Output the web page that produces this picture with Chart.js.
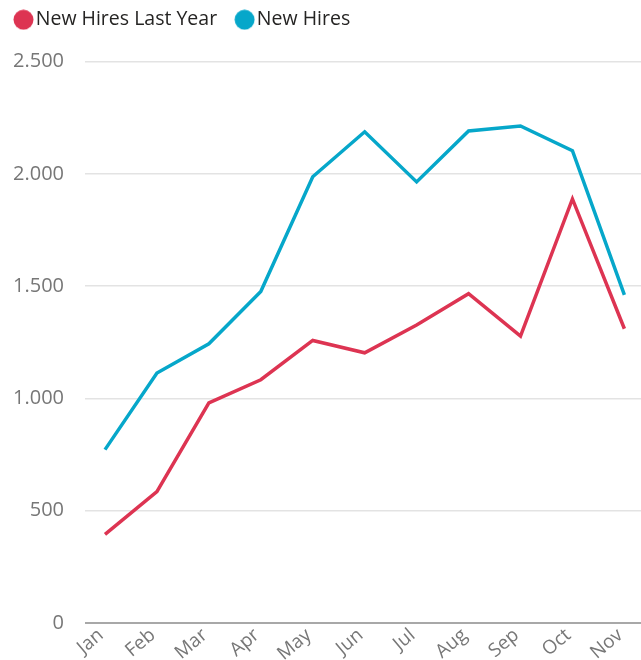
<!DOCTYPE html>
<html>
<head>
<meta charset="utf-8">
<script src="https://cdn.jsdelivr.net/npm/chart.js@4"></script>
<style>
    html, body { margin: 0; padding: 0; background: #fff; }
    #chart-wrap { width: 641px; height: 660px; }
</style>
</head>
<body>
<div id="chart-wrap"><canvas id="hires-chart" width="641" height="660"></canvas></div>
<script>
// New hires per month, this year vs last year

const months = ['Jan', 'Feb', 'Mar', 'Apr', 'May', 'Jun', 'Jul', 'Aug', 'Sep', 'Oct', 'Nov'];
const hiresLastYear = [395, 585, 980, 1083, 1258, 1203, 1327, 1466, 1277, 1888, 1310];
const hiresThisYear = [772, 1113, 1243, 1476, 1987, 2187, 1964, 2191, 2213, 2103, 1461];
const yTicks = [0, 500, 1000, 1500, 2000, 2500];

const RED = '#DD3452';
const BLUE = '#06A7CA';

// Thousands separator with a dot (2.500)
function formatThousands(v) {
    return String(v).replace(/\B(?=(\d{3})+(?!\d))/g, '.');
}

function toPoints(values) {
    return values.map((v, i) => ({ x: i, y: v }));
}

// Round legend dot, drawn at the right side of a wider canvas
// so it sits close to its text and further from the previous item
function makeDot(color) {
    const c = document.createElement('canvas');
    c.width = 36;
    c.height = 21;
    const g = c.getContext('2d');
    g.fillStyle = color;
    g.beginPath();
    g.arc(36 - 10.5, 10.5, 10, 0, Math.PI * 2);
    g.fill();
    return c;
}

const dots = [makeDot(RED), makeDot(BLUE)];

// Extra space under the legend
const legendGap = {
    id: 'legendGap',
    beforeInit(chart) {
        const origFit = chart.legend.fit;
        chart.legend.fit = function() {
            origFit.call(this);
            this.height += 22;
        };
    }
};

const ctx = document.getElementById('hires-chart').getContext('2d');

new Chart(ctx, {
    type: 'line',
    data: {
        datasets: [
            {
                label: 'New Hires Last Year',
                data: toPoints(hiresLastYear),
                borderColor: RED,
                backgroundColor: RED,
                borderWidth: 3.5,
                pointRadius: 0,
                tension: 0
            },
            {
                label: 'New Hires',
                data: toPoints(hiresThisYear),
                borderColor: BLUE,
                backgroundColor: BLUE,
                borderWidth: 3.5,
                pointRadius: 0,
                tension: 0
            }
        ]
    },
    options: {
        responsive: false,
        animation: false,
        layout: {
            padding: { top: 0, left: -4, right: 0, bottom: 0 }
        },
        plugins: {
            legend: {
                display: true,
                position: 'top',
                align: 'start',
                labels: {
                    usePointStyle: true,
                    pointStyleWidth: 20,
                    padding: 10,
                    color: '#252423',
                    font: { family: 'Open Sans', size: 19.5 },
                    generateLabels(chart) {
                        const items = Chart.defaults.plugins.legend.labels.generateLabels(chart);
                        items.forEach((item, i) => { item.pointStyle = dots[i]; });
                        return items;
                    }
                }
            },
            tooltip: { enabled: false }
        },
        scales: {
            x: {
                type: 'linear',
                min: -0.385,
                max: 10.32,
                grid: { display: false, drawTicks: false },
                border: { display: false },
                afterBuildTicks: (axis) => {
                    axis.ticks = months.map((m, i) => ({ value: i }));
                },
                afterFit: (axis) => {
                    axis.height = 37;
                },
                ticks: {
                    autoSkip: false,
                    minRotation: 40,
                    maxRotation: 40,
                    padding: 1,
                    labelOffset: -4,
                    color: '#777777',
                    font: { family: 'Open Sans', size: 19 },
                    callback: (value) => months[value]
                }
            },
            y: {
                min: 0,
                max: 2500,
                afterBuildTicks: (axis) => {
                    axis.ticks = yTicks.map(v => ({ value: v }));
                },
                afterFit: (axis) => {
                    axis.width = 89;
                },
                grid: {
                    drawTicks: false,
                    lineWidth: (c) => (c.tick && c.tick.value === 0 ? 2 : 1.5),
                    color: (c) => (c.tick && c.tick.value === 0 ? '#a8a8a8' : '#e3e3e3')
                },
                border: { display: false },
                ticks: {
                    padding: 21,
                    color: '#777777',
                    font: { family: 'Open Sans', size: 20 },
                    callback: (value) => formatThousands(value)
                }
            }
        }
    },
    plugins: [legendGap]
});
</script>
</body>
</html>
